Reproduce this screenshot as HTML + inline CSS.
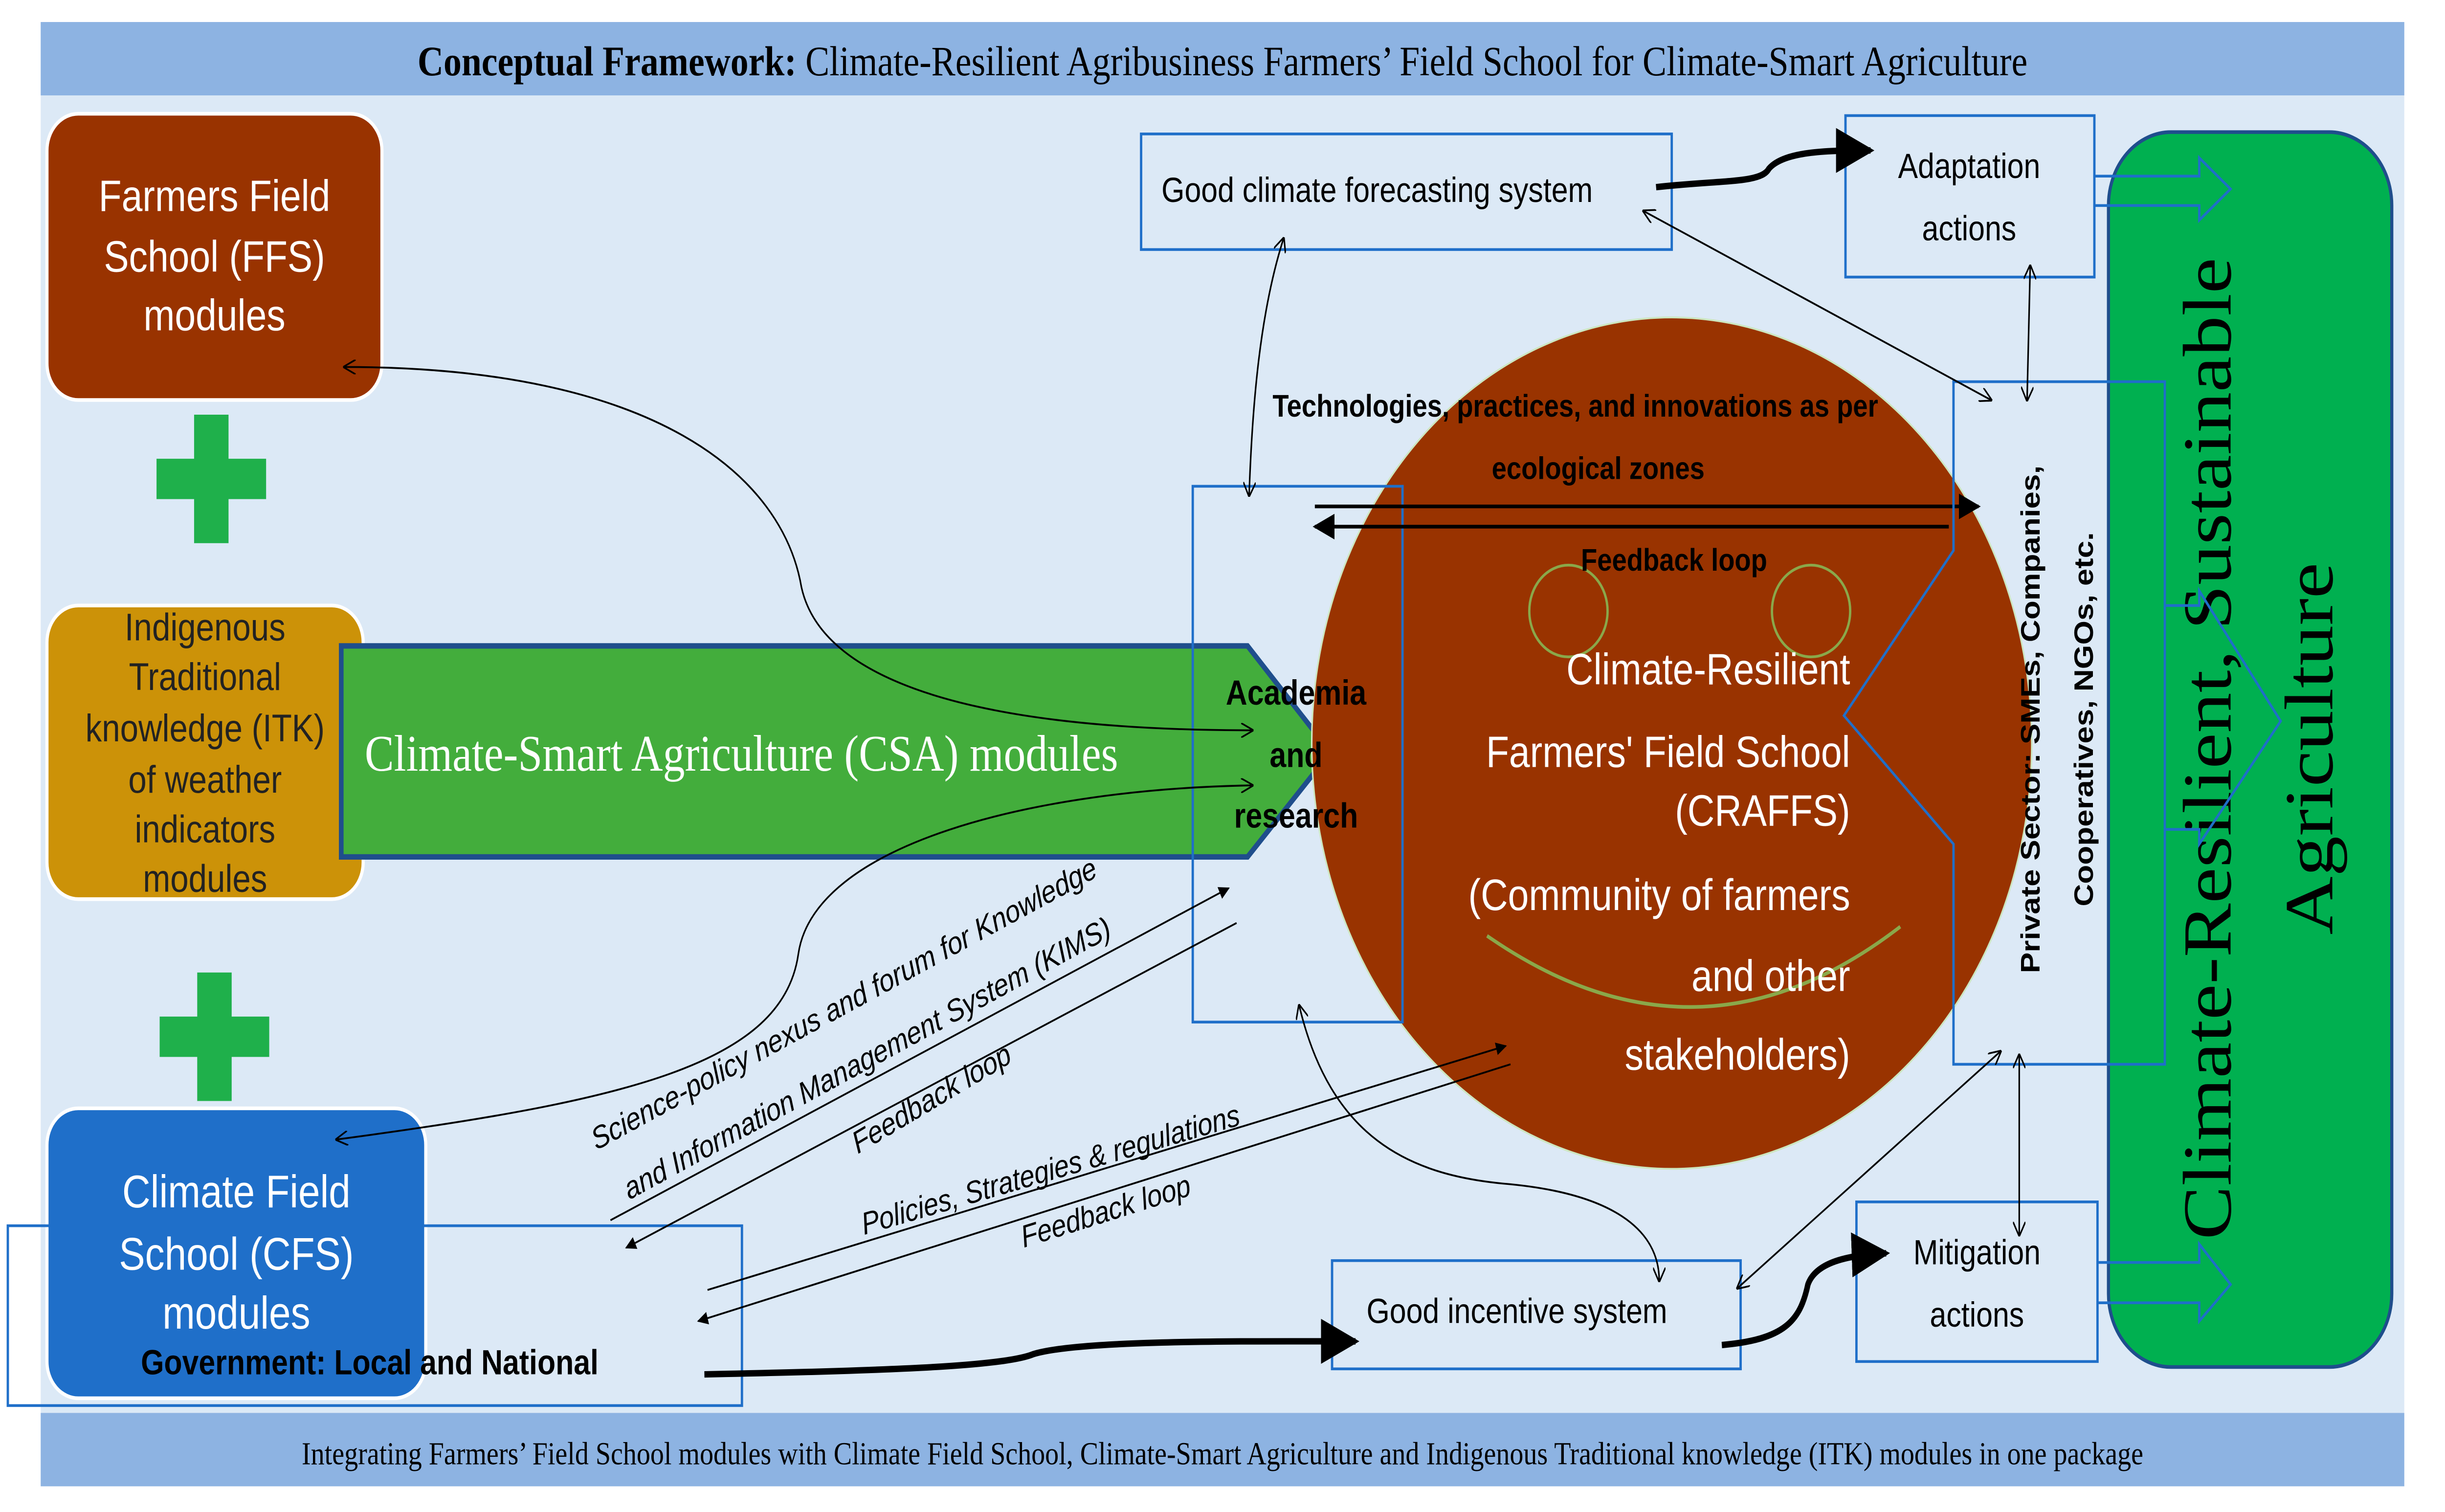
<!DOCTYPE html>
<html><head><meta charset="utf-8"><style>html,body{margin:0;padding:0;background:#fff;width:100vw;height:100vh;overflow:hidden}svg{display:block;position:absolute;left:0;top:0;width:100vw;height:100vh}</style></head><body>
<svg xmlns="http://www.w3.org/2000/svg" viewBox="0 0 1562 824" preserveAspectRatio="none">
<defs>
<marker id="a" viewBox="0 0 10 10" refX="9" refY="5" markerWidth="7" markerHeight="7" orient="auto-start-reverse"><path d="M0,0 L10,5 L0,10 z" fill="#000"/></marker>
<marker id="o" viewBox="0 0 10 10" refX="9" refY="5" markerWidth="8" markerHeight="8" orient="auto-start-reverse"><path d="M0,0 L10,5 L0,10" fill="none" stroke="#000" stroke-width="1.2"/></marker>
</defs>
<g font-family="Liberation Sans, sans-serif">
<rect x="26" y="52" width="1510" height="718" fill="#dce9f6"/>
<rect x="26" y="12" width="1510" height="40" fill="#8db3e2"/>
<text x="781" y="41" font-family="Liberation Serif, serif" font-size="23" text-anchor="middle"><tspan font-weight="bold">Conceptual Framework:</tspan> Climate-Resilient Agribusiness Farmers’ Field School for Climate-Smart Agriculture</text>
<rect x="26" y="770" width="1510" height="40" fill="#8db3e2"/>
<text x="781" y="798" font-family="Liberation Serif, serif" font-size="17.5" text-anchor="middle">Integrating Farmers’ Field School modules with Climate Field School, Climate-Smart Agriculture and Indigenous Traditional knowledge (ITK) modules in one package</text>

<rect x="30" y="62" width="214" height="156" rx="20" fill="#993300" stroke="#fff" stroke-width="2"/>
<g fill="#fff" font-size="24" text-anchor="middle"><text x="137" y="115">Farmers Field</text><text x="137" y="148">School (FFS)</text><text x="137" y="180">modules</text></g>
<path d="M124,226h22v24h24v22h-24v24h-22v-24h-24v-22h24z" fill="#1fb04b"/>
<path d="M126,530h22v24h24v22h-24v24h-22v-24h-24v-22h24z" fill="#1fb04b"/>
<rect x="30" y="330" width="202" height="160" rx="20" fill="#cc9208" stroke="#fff" stroke-width="2"/>
<g fill="#222" font-size="21" text-anchor="middle"><text x="131" y="349">Indigenous</text><text x="131" y="376">Traditional</text><text x="131" y="404">knowledge (ITK)</text><text x="131" y="432">of weather</text><text x="131" y="459">indicators</text><text x="131" y="486">modules</text></g>
<rect x="30" y="604" width="242" height="158" rx="20" fill="#1f6fc9" stroke="#fff" stroke-width="2"/>
<g fill="#fff" font-size="25" text-anchor="middle"><text x="151" y="658">Climate Field</text><text x="151" y="692">School (CFS)</text><text x="151" y="724">modules</text></g>
<rect x="5" y="668" width="469" height="98" fill="none" stroke="#1f6fc9" stroke-width="1.5"/>
<text x="90" y="749" font-size="19" font-weight="bold">Government: Local and National</text>

<polygon points="218,352 797,352 850,410 797,467 218,467" fill="#43ad3c" stroke="#1f4e8c" stroke-width="3"/>
<text x="233" y="420" fill="#fff" font-family="Liberation Serif, serif" font-size="28">Climate-Smart Agriculture (CSA) modules</text>

<ellipse cx="1068" cy="405" rx="230" ry="232" fill="#993300" stroke="#cde6c0" stroke-width="1"/>
<circle cx="1002" cy="333" r="25" fill="#993300" stroke="#8aa84a" stroke-width="1.5"/>
<circle cx="1157" cy="333" r="25" fill="#993300" stroke="#8aa84a" stroke-width="1.5"/>
<path d="M950,510 Q1085,590 1214,505" fill="none" stroke="#8aa84a" stroke-width="2"/>
<g fill="#fff" font-size="24" text-anchor="end"><text x="1182" y="373">Climate-Resilient</text><text x="1182" y="418">Farmers' Field School</text><text x="1182" y="450">(CRAFFS)</text><text x="1182" y="496">(Community of farmers</text><text x="1182" y="540">and other</text><text x="1182" y="583">stakeholders)</text></g>

<rect x="762" y="265" width="134" height="292" fill="none" stroke="#1f6fc9" stroke-width="1.5"/>
<g font-size="19" font-weight="bold" text-anchor="middle"><text x="828" y="384">Academia</text><text x="828" y="418">and</text><text x="828" y="451">research</text></g>

<g font-size="17" font-weight="bold"><text x="813" y="227">Technologies, practices, and innovations as per</text><text x="953" y="261">ecological zones</text><text x="1010" y="311">Feedback loop</text></g>
<line x1="840" y1="276" x2="1264" y2="276" stroke="#000" stroke-width="2" marker-end="url(#a)"/>
<line x1="1245" y1="287" x2="840" y2="287" stroke="#000" stroke-width="2" marker-end="url(#a)"/>

<rect x="1347" y="72" width="181" height="673" rx="40" fill="#00b050" stroke="#1f4e8c" stroke-width="2"/>
<g font-family="Liberation Serif, serif" font-size="44" text-anchor="middle"><text transform="translate(1425,408) rotate(-90)">Climate-Resilient, Sustainable</text><text transform="translate(1490,408) rotate(-90)">Agriculture</text></g>

<polygon points="1248,208 1383,208 1383,580 1248,580 1248,460 1178,390 1248,300" fill="none" stroke="#1f6fc9" stroke-width="1.5"/>
<g font-size="17" font-weight="bold" text-anchor="middle"><text transform="translate(1303,392) rotate(-90)">Private Sector: SMEs, Companies,</text><text transform="translate(1337,392) rotate(-90)">Cooperatives, NGOs, etc.</text></g>
<g fill="none" stroke="#1f6fc9" stroke-width="1.5">
<polyline points="1338,96 1405,96 1405,86 1425,103 1405,120 1405,112 1338,112"/>
<polyline points="1383,330 1405,330 1405,322 1457,393 1405,460 1405,452 1383,452"/>
<polyline points="1340,688 1405,688 1405,678 1425,700 1405,720 1405,710 1340,710"/>
</g>

<rect x="729" y="73" width="339" height="63" fill="#dce9f6" stroke="#1f6fc9" stroke-width="1.5"/>
<text x="742" y="110" font-size="19">Good climate forecasting system</text>
<rect x="1179" y="63" width="159" height="88" fill="#dce9f6" stroke="#1f6fc9" stroke-width="1.5"/>
<g font-size="19" text-anchor="middle"><text x="1258" y="97">Adaptation</text><text x="1258" y="131">actions</text></g>
<rect x="1186" y="655" width="154" height="87" fill="#dce9f6" stroke="#1f6fc9" stroke-width="1.5"/>
<g font-size="19" text-anchor="middle"><text x="1263" y="689">Mitigation</text><text x="1263" y="723">actions</text></g>
<rect x="851" y="687" width="261" height="59" fill="#dce9f6" stroke="#1f6fc9" stroke-width="1.5"/>
<text x="873" y="721" font-size="19">Good incentive system</text>

<g fill="none" stroke="#000" stroke-width="3.5">
<path d="M1058,102 C1100,98 1125,100 1130,92 C1140,82 1170,82 1195,82" marker-end="url(#a)"/>
<path d="M450,749 C560,747 640,745 660,738 C690,730 800,731 866,731" marker-end="url(#a)"/>
<path d="M1100,733 C1140,730 1150,720 1155,700 C1160,688 1180,684 1205,683" marker-end="url(#a)"/>
</g>
<g fill="none" stroke="#000" stroke-width="1">
<path d="M220,200 C420,200 500,260 512,320 C530,390 700,398 800,398" marker-start="url(#o)" marker-end="url(#o)"/>
<path d="M215,621 C400,600 500,580 510,520 C520,460 660,430 800,428" marker-start="url(#o)" marker-end="url(#o)"/>
<path d="M820,130 C805,170 800,220 798,270" marker-start="url(#o)" marker-end="url(#o)"/>
<line x1="1050" y1="115" x2="1272" y2="218" marker-start="url(#o)" marker-end="url(#o)"/>
<line x1="1297" y1="145" x2="1295" y2="218" marker-start="url(#o)" marker-end="url(#o)"/>
<line x1="1290" y1="575" x2="1290" y2="673" marker-start="url(#o)" marker-end="url(#o)"/>
<line x1="1110" y1="702" x2="1278" y2="573" marker-start="url(#o)" marker-end="url(#o)"/>
<path d="M830,548 C850,620 900,640 960,645 C1030,650 1060,670 1060,698" marker-start="url(#o)" marker-end="url(#o)"/>
<line x1="390" y1="665" x2="785" y2="484" marker-end="url(#a)"/>
<line x1="790" y1="503" x2="400" y2="680" marker-end="url(#a)"/>
<line x1="452" y1="703" x2="962" y2="570" marker-end="url(#a)"/>
<line x1="965" y1="580" x2="446" y2="720" marker-end="url(#a)"/>
</g>
<g font-size="17" font-style="italic">
<text transform="translate(381,627) rotate(-25)">Science-policy nexus and forum for Knowledge</text>
<text transform="translate(402,654) rotate(-25)">and Information Management System (KIMS)</text>
<text transform="translate(548,629) rotate(-27)">Feedback loop</text>
<text transform="translate(552,673) rotate(-14)">Policies, Strategies &amp; regulations</text>
<text transform="translate(654,680) rotate(-15)">Feedback loop</text>
</g>
</g>
</svg>
</body></html>
